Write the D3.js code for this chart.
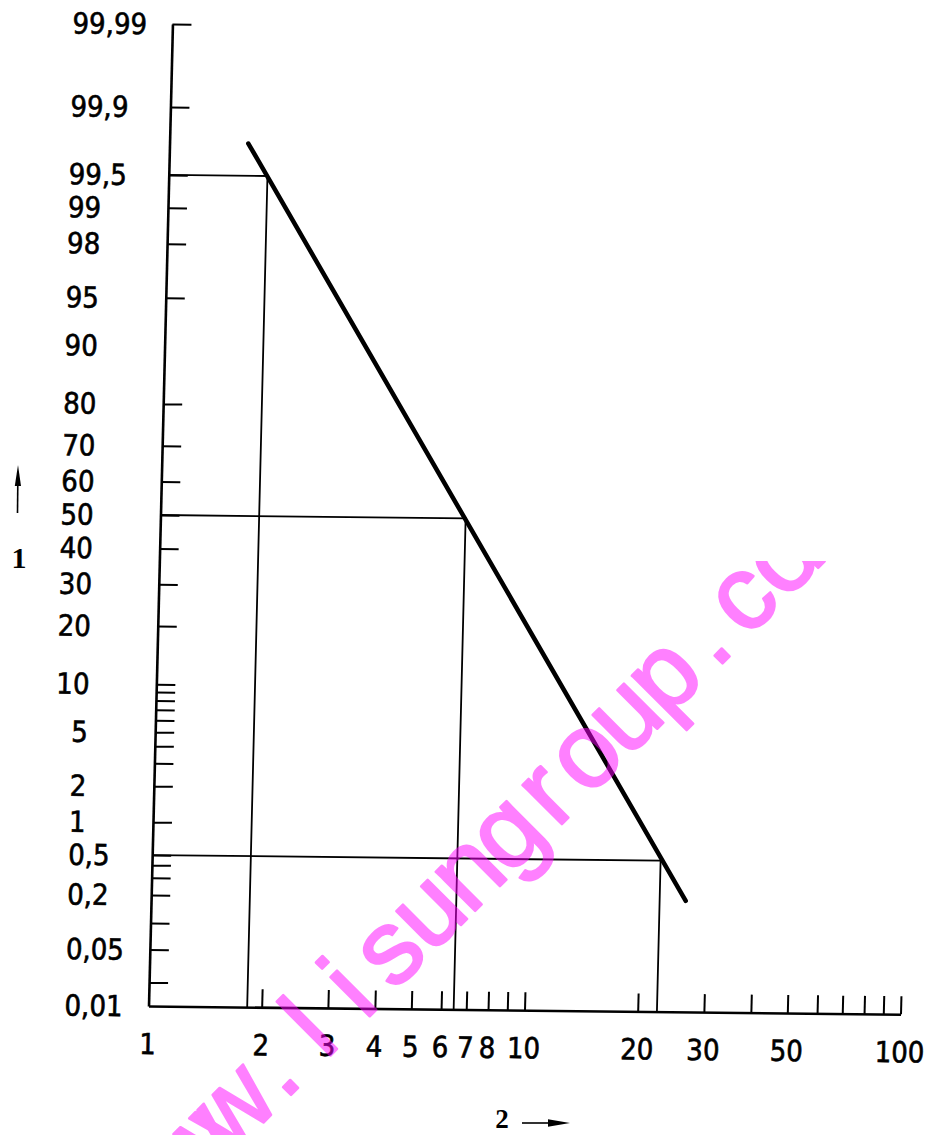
<!DOCTYPE html>
<html>
<head>
<meta charset="utf-8">
<script src="https://cdn.jsdelivr.net/npm/d3@7"></script>
<style>
  html, body { margin: 0; padding: 0; background: #fff; }
  svg { display: block; }
</style>
</head>
<body>
<script>
// ---------------- data ----------------
const xTicks  = [2, 3, 4, 5, 6, 7, 8, 9, 10, 20, 30, 40, 50, 60, 70, 80, 90, 100];
const xLabels = [1, 2, 3, 4, 5, 6, 7, 8, 10, 20, 30, 50, 100];
const yTicks  = [0.02, 0.05, 0.1, 0.2, 0.3, 0.4, 0.5, 1, 2, 3, 4, 5, 6, 7, 8, 9, 10,
                 20, 30, 40, 50, 60, 70, 80, 95, 98, 99, 99.5, 99.9, 99.99];
const yLabels = [0.01, 0.05, 0.2, 0.5, 1, 2, 5, 10, 20, 30, 40, 50, 60, 70, 80, 90,
                 95, 98, 99, 99.5, 99.9, 99.99];
// reading points (x value, cumulative %)
const refX = [1.83, 6.48, 22.5];
const refP = [99.5, 50, 0.5];
// straight distribution line end points
const lineX = [1.62, 26.4];
const lineP = [99.76, 0.2];
const axisLabelY = "1";
const axisLabelX = "2";
const watermark = "www.lisungroup.com";

// ---------------- helpers ----------------
function probit(p) {
  const a = [-3.969683028665376e+01, 2.209460984245205e+02, -2.759285104469687e+02,
             1.383577518672690e+02, -3.066479806614716e+01, 2.506628277459239e+00];
  const b = [-5.447609879822406e+01, 1.615858368580409e+02, -1.556989798598866e+02,
             6.680131188771972e+01, -1.328068155288572e+01];
  const c = [-7.784894002430293e-03, -3.223964580411365e-01, -2.400758277161838e+00,
             -2.549732539343734e+00, 4.374664141464968e+00, 2.938163982698783e+00];
  const d = [7.784695709041462e-03, 3.224671290700398e-01, 2.445134137142996e+00,
             3.754408661907416e+00];
  const pl = 0.02425, ph = 1 - pl;
  let q, r;
  if (p < pl) {
    q = Math.sqrt(-2 * Math.log(p));
    return (((((c[0]*q+c[1])*q+c[2])*q+c[3])*q+c[4])*q+c[5]) / ((((d[0]*q+d[1])*q+d[2])*q+d[3])*q+1);
  }
  if (p <= ph) {
    q = p - 0.5; r = q * q;
    return (((((a[0]*r+a[1])*r+a[2])*r+a[3])*r+a[4])*r+a[5])*q / (((((b[0]*r+b[1])*r+b[2])*r+b[3])*r+b[4])*r+1);
  }
  q = Math.sqrt(-2 * Math.log(1 - p));
  return -(((((c[0]*q+c[1])*q+c[2])*q+c[3])*q+c[4])*q+c[5]) / ((((d[0]*q+d[1])*q+d[2])*q+d[3])*q+1);
}
const fmt = v => String(v).replace('.', ',');

// ---------------- scales ----------------
const W = 752, H = 982;
const xS = d3.scaleLog().domain([1, 100]).range([0, W]);
const zLin = d3.scaleLinear().domain([probit(0.0001), probit(0.9999)]).range([0, -H]);
function yS(p) { return zLin(probit(p / 100)); }
yS.range = () => zLin.range();
yS.domain = () => [0.01, 99.99];
yS.copy = () => yS;

// ---------------- svg ----------------
const svg = d3.select('body').append('svg').attr('width', 929).attr('height', 1135);
svg.append('rect').attr('width', 929).attr('height', 1135).attr('fill', '#fff');

// the scanned sheet is slightly skewed
const g = svg.append('g').attr('transform', 'matrix(1,0.011,-0.0244,1,148.5,1006)');

const FONT = "'DejaVu Sans Condensed','DejaVu Sans',sans-serif";

// x axis
const gx = g.append('g')
  .call(d3.axisTop(xS).tickValues(xTicks).tickSize(18).tickSizeOuter(0).tickFormat(''));
gx.select('.domain').attr('stroke', '#000').attr('stroke-width', 2.6);
gx.selectAll('.tick line').attr('stroke', '#000').attr('stroke-width', 2);

// y axis
const gy = g.append('g')
  .call(d3.axisRight(yS).tickValues(yTicks).tickSize(19).tickSizeOuter(0).tickFormat(''));
gy.select('.domain').attr('stroke', '#000').attr('stroke-width', 2.6);
gy.selectAll('.tick line').attr('stroke', '#000').attr('stroke-width', 2);

// y labels
g.append('g').selectAll('text').data(yLabels).join('text')
  .attr('x', d => d >= 10 ? -100 : -84)
  .attr('y', d => yS(d) + 10.5)
  .attr('font-family', FONT).attr('font-stretch', 'condensed')
  .attr('font-size', 29).attr('fill', '#000')
  .attr('stroke', '#000').attr('stroke-width', 0.6)
  .text(fmt);

// x labels
g.append('g').selectAll('text').data(xLabels).join('text')
  .attr('x', d => xS(d))
  .attr('y', 48)
  .attr('text-anchor', 'middle')
  .attr('font-family', FONT).attr('font-stretch', 'condensed')
  .attr('font-size', 29).attr('fill', '#000')
  .attr('stroke', '#000').attr('stroke-width', 0.6)
  .text(fmt);

// reading lines
const refs = d3.zip(refX, refP);
g.append('g').selectAll('path').data(refs).join('path')
  .attr('d', d => `M${xS(1)},${yS(d[1])}L${xS(d[0])},${yS(d[1])}L${xS(d[0])},${yS(0.01)}`)
  .attr('fill', 'none').attr('stroke', '#000').attr('stroke-width', 1.8);

// distribution line
g.append('path')
  .datum(d3.zip(lineX, lineP))
  .attr('d', d3.line().x(d => xS(d[0])).y(d => yS(d[1])))
  .attr('fill', 'none').attr('stroke', '#000').attr('stroke-width', 4.5)
  .attr('stroke-linecap', 'round');

// axis names with arrows
svg.append('text').attr('x', 19).attr('y', 568).attr('text-anchor', 'middle')
  .attr('font-family', "'Liberation Serif','Times New Roman',serif")
  .attr('font-weight', 'bold').attr('font-size', 30).text(axisLabelY);
svg.append('path').attr('d', 'M17.5,513L17.8,484').attr('stroke', '#000').attr('stroke-width', 1.6);
svg.append('path').attr('d', 'M18,465L14.8,486L21,486Z').attr('fill', '#000');

svg.append('text').attr('x', 502).attr('y', 1128).attr('text-anchor', 'middle')
  .attr('font-family', "'Liberation Serif','Times New Roman',serif")
  .attr('font-weight', 'bold').attr('font-size', 27).text(axisLabelX);
svg.append('path').attr('d', 'M522,1123L552,1123').attr('stroke', '#000').attr('stroke-width', 1.6);
svg.append('path').attr('d', 'M570,1123L548,1119.2L548,1126.8Z').attr('fill', '#000');

// watermark (drawn over the chart, semi-transparent magenta, clipped at the top)
svg.append('clipPath').attr('id', 'wmclip')
  .append('rect').attr('x', 0).attr('y', 561).attr('width', 929).attr('height', 600);
const wm = svg.append('g').attr('clip-path', 'url(#wmclip)').attr('opacity', 0.5);
const step = 55.5, cs = Math.SQRT1_2;
wm.selectAll('text').data(watermark.split('')).join('text')
  .attr('transform', (ch, k) => {
    const px = 294.5 + (k - 3) * step * cs;
    const py = 1091.5 - (k - 3) * step * cs;
    return `translate(${px},${py}) rotate(-45)`;
  })
  .attr('text-anchor', 'middle')
  .attr('font-family', "'Liberation Sans',Arial,sans-serif")
  .attr('font-size', 105)
  .attr('fill', '#ff00ff').attr('stroke', '#ff00ff').attr('stroke-width', 2.5)
  .attr('stroke-linejoin', 'round')
  .text(ch => ch);
</script>
</body>
</html>
